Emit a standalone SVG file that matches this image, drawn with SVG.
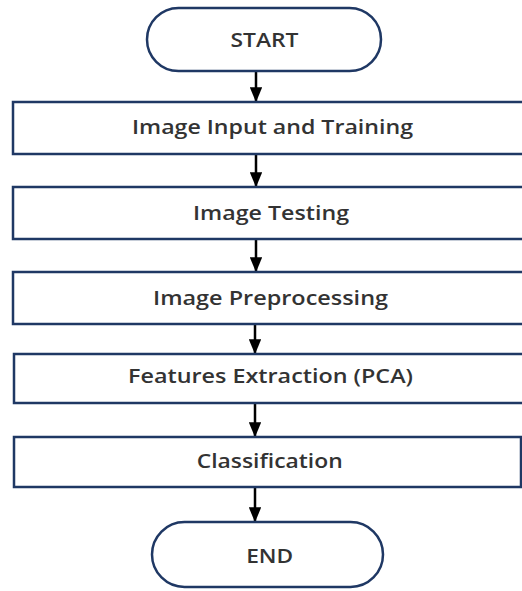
<svg xmlns="http://www.w3.org/2000/svg" width="522" height="591" viewBox="0 0 522 591">
<defs>
<style>
.n{fill:#fff;stroke:#1f3864;stroke-width:2.5}
.t{font-family:"Open Sans","Liberation Sans",sans-serif;font-size:19px;font-weight:600;fill:#333;text-anchor:middle}
.c line{stroke:#000;stroke-width:2.5}
</style>
<marker id="ah" markerWidth="6" markerHeight="5" refX="5.5" refY="2.5" orient="auto" markerUnits="strokeWidth">
<path d="M0,0 L6,2.5 L0,5 Z" fill="#000"/>
</marker>
</defs>
<rect width="522" height="591" fill="#fff"/>
<g class="c">
<line x1="256" y1="71" x2="256" y2="101" marker-end="url(#ah)"/>
<line x1="256" y1="154" x2="256" y2="186" marker-end="url(#ah)"/>
<line x1="256" y1="239" x2="256" y2="271" marker-end="url(#ah)"/>
<line x1="255" y1="324" x2="255" y2="353" marker-end="url(#ah)"/>
<line x1="255" y1="403" x2="255" y2="436" marker-end="url(#ah)"/>
<line x1="255" y1="487" x2="255" y2="521" marker-end="url(#ah)"/>
</g>
<g id="start"><rect class="n" x="147" y="8" width="234" height="63" rx="31.5"/><text class="t" x="264.5" y="47" textLength="68" lengthAdjust="spacingAndGlyphs">START</text></g>
<g id="n1"><rect class="n" x="13" y="102" width="515" height="52"/><text class="t" x="272.5" y="134" textLength="281" lengthAdjust="spacingAndGlyphs">Image Input and Training</text></g>
<g id="n2"><rect class="n" x="13" y="187" width="515" height="52"/><text class="t" x="271" y="220" textLength="156" lengthAdjust="spacingAndGlyphs">Image Testing</text></g>
<g id="n3"><rect class="n" x="13" y="272" width="515" height="52"/><text class="t" x="270.5" y="305" textLength="235" lengthAdjust="spacingAndGlyphs">Image Preprocessing</text></g>
<g id="n4"><rect class="n" x="14" y="354" width="515" height="49"/><text class="t" x="270.5" y="383" textLength="285" lengthAdjust="spacingAndGlyphs">Features Extraction (PCA)</text></g>
<g id="n5"><rect class="n" x="14" y="437" width="507" height="50"/><text class="t" x="269.7" y="468" textLength="146" lengthAdjust="spacingAndGlyphs">Classification</text></g>
<g id="end"><rect class="n" x="152" y="522" width="231" height="65" rx="32.5"/><text class="t" x="269.7" y="563" textLength="47" lengthAdjust="spacingAndGlyphs">END</text></g>
</svg>
